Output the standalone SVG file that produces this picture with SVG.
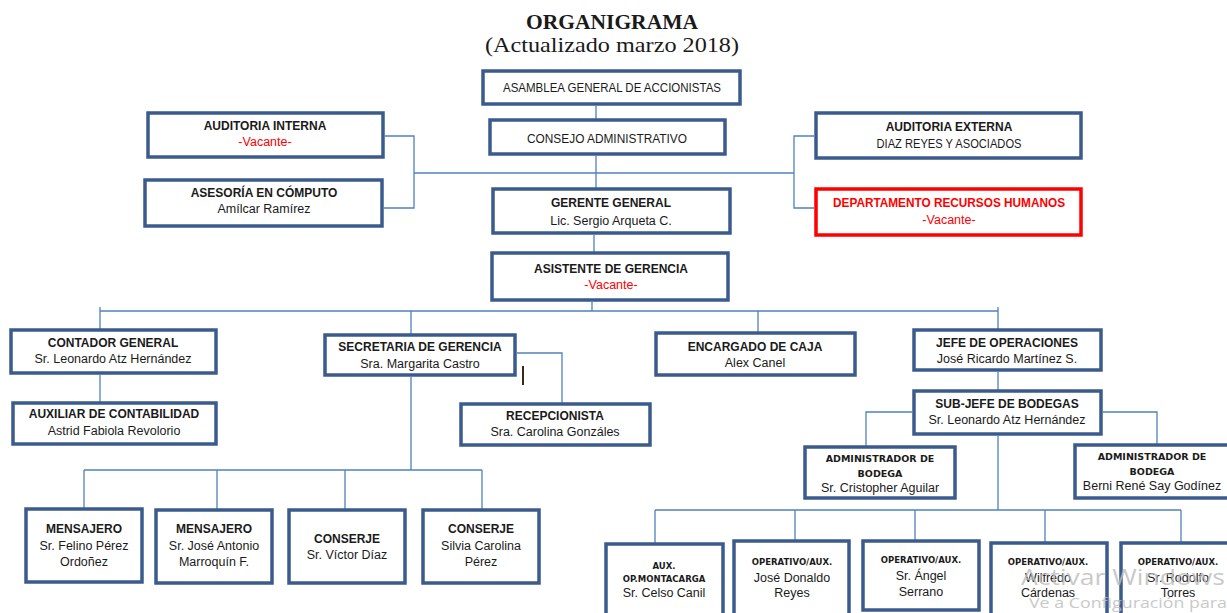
<svg xmlns="http://www.w3.org/2000/svg" width="1227" height="613" viewBox="0 0 1227 613">
<style>
.bx{fill:#fff;stroke:#3b5b8c;stroke-width:3.5}
.red{fill:#fff;stroke:#ff0000;stroke-width:3.5}
.cn{fill:none;stroke:#4f81bd;stroke-width:1.3}
text{font-family:"Liberation Sans",Arial,sans-serif;text-anchor:middle;fill:#1a1a1a}
.t{font-weight:bold;font-size:12px}
.n{font-size:12.5px}
.v{font-size:12.5px;fill:#ff0000}
.s{font-family:"DejaVu Sans",Verdana,sans-serif;font-weight:bold;font-size:9.5px}
.ti{font-family:"Liberation Serif","Times New Roman",serif;font-weight:bold;font-size:21.5px}
.sub{font-family:"Liberation Serif","Times New Roman",serif;font-size:21px}
.wm{font-family:"Open Sans","Noto Sans",sans-serif;fill:#bcbcbc;text-anchor:start;opacity:0.8}
</style>
<rect width="1227" height="613" fill="#fff"/>
<text class="ti" x="612" y="29">ORGANIGRAMA</text>
<text class="sub" x="612" y="52" textLength="254" lengthAdjust="spacingAndGlyphs">(Actualizado marzo 2018)</text>
<g id="connectors">
<path class="cn" d="M596 106V120M596 156V189M414 173H794M385 136H414V208H384M814 136H794V208H814M594 235V253M592 302V311M100 311H998M100 307V330M100 375V403M411 311V335M758 311V333M998 307V330M998 372V391M517 353H562V404M912 412H866V447M1103 412H1157V445M998 436V510M655 510H1181M655 510V544M795 510V541M915 510V541M1045 510V543M1181 510V543M411 377V470M84 470H482M84 470V509M217 470V510M345 470V510M482 470V510"/>
<line x1="523" y1="366" x2="523" y2="385" stroke="#3b2a1a" stroke-width="2"/>
</g>
<g id="asamblea"><rect class="bx" x="483" y="71" width="257" height="33"/><text class="n" x="612" y="92" textLength="218" lengthAdjust="spacingAndGlyphs">ASAMBLEA GENERAL DE ACCIONISTAS</text></g>
<g id="consejo"><rect class="bx" x="490" y="120" width="235" height="34"/><text class="n" x="607" y="143" textLength="160" lengthAdjust="spacingAndGlyphs">CONSEJO ADMINISTRATIVO</text></g>
<g id="gerente"><rect class="bx" x="493" y="189" width="237" height="44"/><text class="t" x="611" y="207">GERENTE GENERAL</text><text class="n" x="611" y="225">Lic. Sergio Arqueta C.</text></g>
<g id="auditoria-interna"><rect class="bx" x="148" y="113" width="235" height="44"/><text class="t" x="265" y="130">AUDITORIA INTERNA</text><text class="v" x="265" y="146">-Vacante-</text></g>
<g id="asesoria"><rect class="bx" x="145" y="180" width="237" height="46"/><text class="t" x="264" y="197">ASESORÍA EN CÓMPUTO</text><text class="n" x="264" y="213">Amílcar Ramírez</text></g>
<g id="auditoria-externa"><rect class="bx" x="816" y="113" width="265" height="45"/><text class="t" x="949" y="131">AUDITORIA EXTERNA</text><text class="n" x="949" y="148" textLength="145" lengthAdjust="spacingAndGlyphs">DIAZ REYES Y ASOCIADOS</text></g>
<g id="rrhh"><rect class="red" x="816" y="189" width="265" height="46"/><text class="t" x="949" y="207" style="fill:#ff0000" textLength="232" lengthAdjust="spacingAndGlyphs">DEPARTAMENTO RECURSOS HUMANOS</text><text class="v" x="949" y="224">-Vacante-</text></g>
<g id="asistente"><rect class="bx" x="492" y="253" width="236" height="47"/><text class="t" x="611" y="273">ASISTENTE DE GERENCIA</text><text class="v" x="611" y="289">-Vacante-</text></g>
<g id="contador"><rect class="bx" x="11" y="330" width="205" height="43"/><text class="t" x="113" y="347">CONTADOR GENERAL</text><text class="n" x="113" y="363">Sr. Leonardo Atz Hernández</text></g>
<g id="auxiliar"><rect class="bx" x="13" y="403" width="203" height="41"/><text class="t" x="114" y="418">AUXILIAR DE CONTABILIDAD</text><text class="n" x="114" y="435">Astrid Fabiola Revolorio</text></g>
<g id="secretaria"><rect class="bx" x="325" y="335" width="190" height="40"/><text class="t" x="420" y="351">SECRETARIA DE GERENCIA</text><text class="n" x="420" y="368">Sra. Margarita Castro</text></g>
<g id="recepcionista"><rect class="bx" x="461" y="404" width="189" height="41"/><text class="t" x="555" y="420">RECEPCIONISTA</text><text class="n" x="555" y="436">Sra. Carolina Gonzáles</text></g>
<g id="caja"><rect class="bx" x="656" y="333" width="199" height="42"/><text class="t" x="755" y="351">ENCARGADO DE CAJA</text><text class="n" x="755" y="367">Alex Canel</text></g>
<g id="jefe-operaciones"><rect class="bx" x="914" y="330" width="187" height="40"/><text class="t" x="1007" y="347">JEFE DE OPERACIONES</text><text class="n" x="1007" y="363">José Ricardo Martínez S.</text></g>
<g id="subjefe"><rect class="bx" x="914" y="391" width="187" height="43"/><text class="t" x="1007" y="408">SUB-JEFE DE BODEGAS</text><text class="n" x="1007" y="424">Sr. Leonardo Atz Hernández</text></g>
<g id="admin1"><rect class="bx" x="805" y="447" width="150" height="51"/><text class="s" x="880" y="462">ADMINISTRADOR DE</text><text class="s" x="880" y="477">BODEGA</text><text class="n" x="880" y="492">Sr. Cristopher Aguilar</text></g>
<g id="admin2"><rect class="bx" x="1075" y="445" width="158" height="53"/><text class="s" x="1152" y="460">ADMINISTRADOR DE</text><text class="s" x="1152" y="475">BODEGA</text><text class="n" x="1152" y="490">Berni René Say Godínez</text></g>
<g id="mensajero1"><rect class="bx" x="26" y="509" width="116" height="73"/><text class="t" x="84" y="533">MENSAJERO</text><text class="n" x="84" y="550">Sr. Felino Pérez</text><text class="n" x="84" y="566">Ordoñez</text></g>
<g id="mensajero2"><rect class="bx" x="156" y="510" width="116" height="73"/><text class="t" x="214" y="533">MENSAJERO</text><text class="n" x="214" y="550">Sr. José Antonio</text><text class="n" x="214" y="566">Marroquín F.</text></g>
<g id="conserje1"><rect class="bx" x="289" y="510" width="116" height="73"/><text class="t" x="347" y="543">CONSERJE</text><text class="n" x="347" y="559">Sr. Víctor Díaz</text></g>
<g id="conserje2"><rect class="bx" x="423" y="510" width="116" height="73"/><text class="t" x="481" y="533">CONSERJE</text><text class="n" x="481" y="550">Silvia Carolina</text><text class="n" x="481" y="566">Pérez</text></g>
<g id="montacarga"><rect class="bx" x="606" y="544" width="117" height="80"/><text class="s" x="664" y="569" style="font-size:8.5px">AUX.</text><text class="s" x="664" y="582" style="font-size:8.5px">OP.MONTACARGA</text><text class="n" x="664" y="597">Sr. Celso Canil</text></g>
<g id="donaldo"><rect class="bx" x="734" y="541" width="115" height="80"/><text class="s" x="792" y="565" style="font-size:8.5px">OPERATIVO/AUX.</text><text class="n" x="792" y="582">José Donaldo</text><text class="n" x="792" y="597">Reyes</text></g>
<g id="angel"><rect class="bx" x="863" y="541" width="116" height="69"/><text class="s" x="921" y="563" style="font-size:8.5px">OPERATIVO/AUX.</text><text class="n" x="921" y="580">Sr. Ángel</text><text class="n" x="921" y="596">Serrano</text></g>
<g id="wilfredo"><rect class="bx" x="991" y="543" width="116" height="80"/><text class="s" x="1048" y="565" style="font-size:8.5px">OPERATIVO/AUX.</text><text class="n" x="1048" y="582">Wilfredo</text><text class="n" x="1048" y="597">Cárdenas</text></g>
<g id="rodolfo"><rect class="bx" x="1121" y="543" width="120" height="80"/><text class="s" x="1178" y="565" style="font-size:8.5px">OPERATIVO/AUX.</text><text class="n" x="1178" y="582">Sr. Rodolfo</text><text class="n" x="1178" y="597">Torres</text></g>
<text class="wm" x="1021" y="585" font-size="21" textLength="204" lengthAdjust="spacingAndGlyphs">Activar Windows</text>
<text class="wm" x="1029" y="608" font-size="15" textLength="198" lengthAdjust="spacingAndGlyphs">Ve a Configuración para</text>
</svg>
